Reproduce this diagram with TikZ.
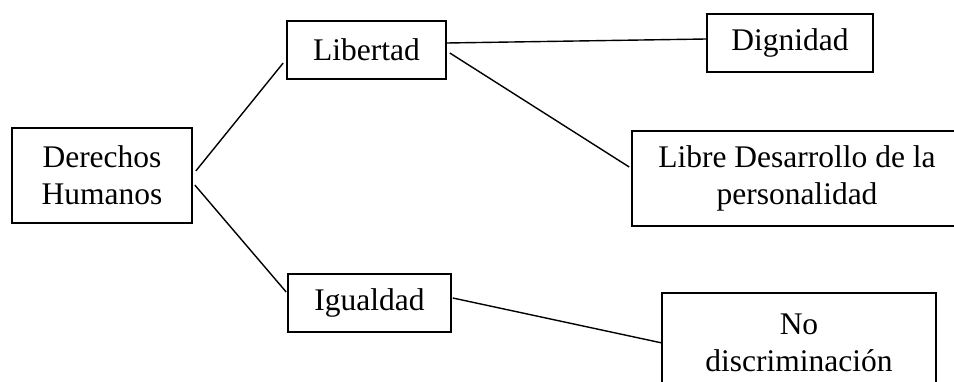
\documentclass[tikz,border=0pt]{standalone}
\usepackage{fontspec}
\setmainfont{Liberation Serif}
\begin{document}
\begin{tikzpicture}[x=1pt,y=-1pt,
  box/.style={draw,line width=1.6pt,inner sep=0pt,align=center,font=\fontsize{31.5}{37}\selectfont},
  link/.style={line width=1.4pt}]
\useasboundingbox (0,0) rectangle (954,382);
\node[box,minimum width=180,minimum height=95] (dh) at (102,175.5) {Derechos\\Humanos};
\node[box,minimum width=159,minimum height=58] (lib) at (366.5,50) {Libertad};
\node[box,minimum width=163,minimum height=58] (igu) at (369.5,303) {Igualdad};
\node[box,minimum width=166,minimum height=58] (dig) at (790,43) {Dignidad};
\node[box,minimum width=330,minimum height=95] (ldp) at (797,178.5) {Libre Desarrollo de la\\personalidad};
\node[box,minimum width=274,minimum height=100,anchor=north] (nod) at (799,292) {No\\discriminación};
\draw[link] ([xshift=3pt,yshift=4.5pt]dh.east) -- ([xshift=-3pt,yshift=-13pt]lib.west);
\draw[link] ([xshift=2pt,yshift=-9.5pt]dh.east) -- ([xshift=-1pt,yshift=11pt]igu.west);
\draw[link] ([yshift=7pt]lib.east) -- ([yshift=4pt]dig.west);
\draw[link] ([xshift=3pt,yshift=-3pt]lib.east) -- ([xshift=-2pt,yshift=11.5pt]ldp.west);
\draw[link] ([xshift=1pt,yshift=5pt]igu.east) -- ([yshift=0pt]nod.west);
\end{tikzpicture}
\end{document}
